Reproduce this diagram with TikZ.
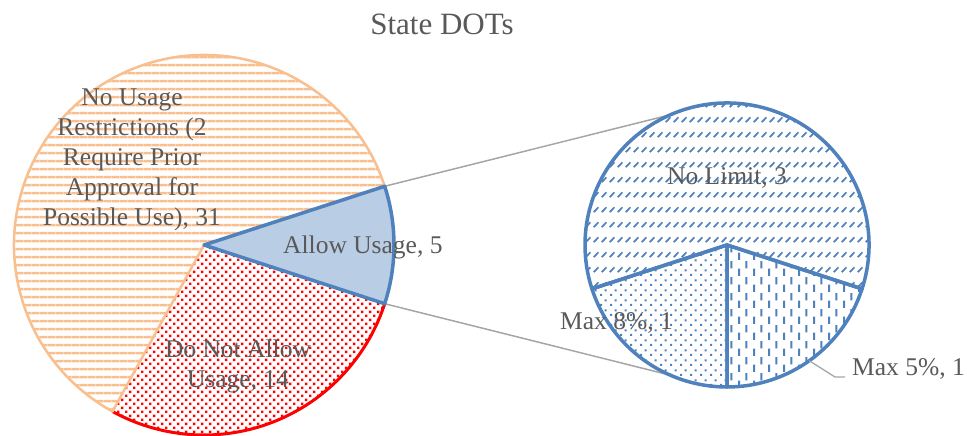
\documentclass[tikz,border=0pt]{standalone}
\usepackage{fontspec}
\setmainfont{Liberation Serif}
\usetikzlibrary{patterns}

\definecolor{txtgray}{HTML}{595959}
\definecolor{peach}{HTML}{F9BF8F}
\definecolor{steel}{HTML}{4F81BD}
\definecolor{paleblue}{HTML}{B9CDE5}
\definecolor{linegray}{HTML}{A6A6A6}

% horizontal stripes
\pgfdeclarepatternformonly{hstripes}{\pgfpointorigin}{\pgfpoint{7.8pt}{7.8pt}}{\pgfpoint{7.8pt}{7.8pt}}{%
  \pgfpathrectangle{\pgfpoint{0pt}{2.6pt}}{\pgfpoint{7.8pt}{2.6pt}}\pgfusepath{fill}}
% dense dots
\pgfdeclarepatternformonly{densedots}{\pgfpointorigin}{\pgfpoint{8.4pt}{8.4pt}}{\pgfpoint{8.4pt}{8.4pt}}{%
  \pgfpathrectangle{\pgfpoint{0pt}{0pt}}{\pgfpoint{2.5pt}{2.5pt}}%
  \pgfpathrectangle{\pgfpoint{4.2pt}{4.2pt}}{\pgfpoint{2.5pt}{2.5pt}}\pgfusepath{fill}}
% sparse dots
\pgfdeclarepatternformonly{sparsedots}{\pgfpointorigin}{\pgfpoint{10pt}{10pt}}{\pgfpoint{10pt}{10pt}}{%
  \pgfpathrectangle{\pgfpoint{0pt}{0pt}}{\pgfpoint{2.3pt}{2.3pt}}%
  \pgfpathrectangle{\pgfpoint{5pt}{5pt}}{\pgfpoint{2.3pt}{2.3pt}}\pgfusepath{fill}}
% dashed verticals
\pgfdeclarepatternformonly{vdashes}{\pgfpointorigin}{\pgfpoint{15.4pt}{16pt}}{\pgfpoint{15.4pt}{16pt}}{%
  \pgfpathrectangle{\pgfpoint{0pt}{0pt}}{\pgfpoint{2.1pt}{7.8pt}}%
  \pgfpathrectangle{\pgfpoint{7.7pt}{8pt}}{\pgfpoint{2.1pt}{7.8pt}}\pgfusepath{fill}}
% dashed upward diagonals
\pgfdeclarepatternformonly{ddashes}{\pgfpointorigin}{\pgfpoint{7.5pt}{14.5pt}}{\pgfpoint{7.5pt}{14.5pt}}{%
  \pgfsetlinewidth{1.8pt}%
  \pgfpathmoveto{\pgfpoint{0.8pt}{4pt}}\pgfpathlineto{\pgfpoint{5.8pt}{9pt}}\pgfusepath{stroke}}

\begin{document}
\begin{tikzpicture}[x=1pt,y=1pt,
  lbl/.style={text=txtgray, font=\fontsize{25.5}{30}\selectfont, inner sep=0pt},
  serline/.style={draw=linegray, line width=1.5pt},
  slice/.style={line width=3.5pt, line join=round},
  bluefill/.style={preaction={fill=white}, pattern color=steel}]
\useasboundingbox (0,0) rectangle (967,436);

\coordinate (L) at (204,191);
\coordinate (R) at (727,191);

% series lines between the two pies
\path (L) ++(18:190) coordinate (Ltop);
\path (L) ++(-18:190) coordinate (Lbot);
\path (R) ++(113.5:142) coordinate (Rtop);
\path (R) ++(-113.5:142) coordinate (Rbot);
\draw[serline] (Ltop) -- (Rtop);
\draw[serline] (Lbot) -- (Rbot);

% main pie
\fill[white] (L) -- ++(-18:190) arc[start angle=-18, end angle=-118.8, radius=190] -- cycle;
\fill[pattern=densedots, pattern color=red] (L) -- ++(-18:190) arc[start angle=-18, end angle=-118.8, radius=190] -- cycle;
\draw[red, line width=3pt] (L) ++(-18:190) arc[start angle=-18, end angle=-118.8, radius=190];
\fill[white] (L) -- ++(18:190) arc[start angle=18, end angle=241.2, radius=190] -- cycle;
\draw[peach, line width=2.5pt, line join=round, pattern=hstripes, pattern color=peach]
  (L) -- ++(18:190) arc[start angle=18, end angle=241.2, radius=190] -- cycle;
\draw[slice, steel, fill=paleblue] (L) -- ++(-18:190) arc[start angle=-18, end angle=18, radius=190] -- cycle;

% secondary pie
\fill[bluefill, pattern=ddashes] (R) -- ++(-18:142) arc[start angle=-18, end angle=198, radius=142] -- cycle;
\fill[bluefill, pattern=vdashes] (R) -- ++(-90:142) arc[start angle=-90, end angle=-18, radius=142] -- cycle;
\fill[bluefill, pattern=sparsedots] (R) -- ++(198:142) arc[start angle=198, end angle=270, radius=142] -- cycle;
\draw[slice, steel] (R) -- ++(-18:142) arc[start angle=-18, end angle=198, radius=142] -- cycle;
\draw[slice, steel] (R) -- ++(-90:142) arc[start angle=-90, end angle=-18, radius=142] -- cycle;
\draw[slice, steel] (R) -- ++(198:142) arc[start angle=198, end angle=270, radius=142] -- cycle;

% leader line to the outside label
\path (R) ++(-54.6:142) coordinate (m5a);
\coordinate (m5k) at (835,59);
\draw[serline, line width=1.3pt] (m5a) -- (m5k) -- ++(10,0);

% title and labels
\node[text=txtgray, font=\fontsize{31}{37}\selectfont, inner sep=0pt, anchor=base] (title) at (442,401) {State DOTs};
\node[lbl, align=center] (nousage) at (132,276)
  {No Usage\\Restrictions (2\\Require Prior\\Approval for\\Possible Use), 31};
\node[lbl, align=center] (donot) at (238,70) {Do Not Allow\\Usage, 14};
\node[lbl, anchor=base west] (allow) at (283,182) {Allow Usage, 5};
\node[lbl, anchor=base] (nolimit) at (727,251) {No Limit, 3};
\node[lbl, anchor=base east] (m8) at (673,106) {Max 8\%, 1};
\node[lbl, anchor=base west] (m5) at (852,60) {Max 5\%, 1};
\end{tikzpicture}
\end{document}
